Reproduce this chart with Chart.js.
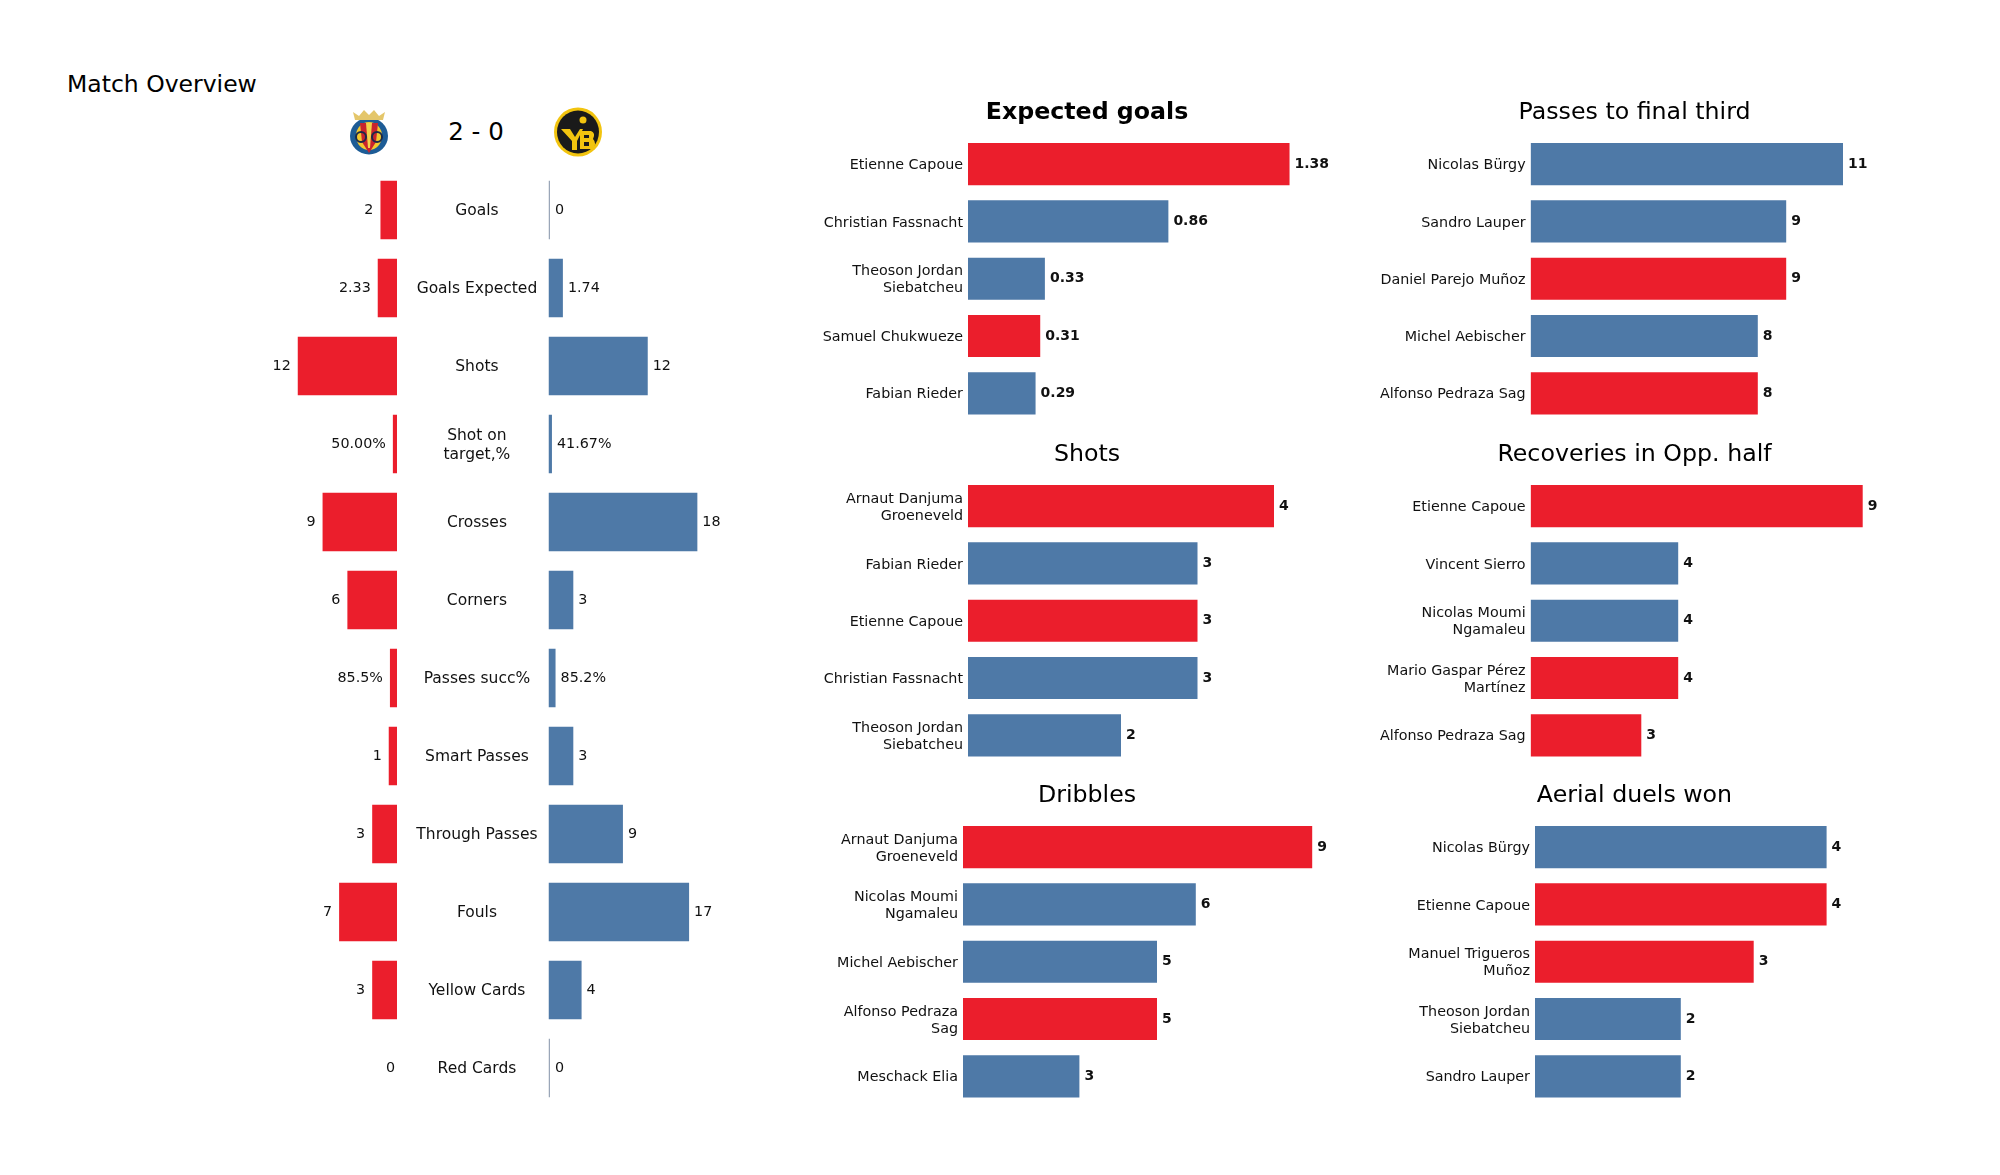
<!DOCTYPE html>
<html><head><meta charset="utf-8">
<style>
html,body{margin:0;padding:0;background:#fff;width:2000px;height:1175px;overflow:hidden;position:relative;font-family:"DejaVu Sans",sans-serif;color:#000}
canvas{position:absolute}
.t{position:absolute;white-space:nowrap;line-height:1}
svg{position:absolute}
</style>
<script src="https://cdn.jsdelivr.net/npm/chart.js@4"></script>
</head><body>
<div class="t" id="mo" style="left:67px;top:73px;font-size:23.5px">Match Overview</div>
<div class="t" id="sc" style="left:476px;top:120px;font-size:24.5px;transform:translateX(-50%)">2 - 0</div>
<svg style="left:346px;top:106px" width="46" height="50" viewBox="0 0 46 50">
 <ellipse cx="23" cy="30" rx="19" ry="18.5" fill="#1d5c96"/>
 <ellipse cx="23" cy="30" rx="13" ry="14" fill="#f3c92f"/>
 <path d="M14 17 L32 17 L30 36 L23 47 L16 36Z" fill="#c8242d"/>
 <path d="M20 17 L26 17 L24 42 L22 42Z" fill="#f3d24a"/>
 <circle cx="15" cy="31" r="5" fill="none" stroke="#1b2a4a" stroke-width="2"/>
 <circle cx="31" cy="31" r="5" fill="none" stroke="#1b2a4a" stroke-width="2"/>
 <path d="M9 14 L37 14 L39 6 L33 10 L28 4 L23 9 L18 4 L13 10 L7 6Z" fill="#e4c66a"/>
</svg>
<svg style="left:553px;top:107px" width="50" height="50" viewBox="0 0 50 50">
 <ellipse cx="25" cy="25" rx="24" ry="24.5" fill="#f2c40f"/>
 <ellipse cx="25" cy="25" rx="21" ry="21.5" fill="#1a1a1a"/>
 <path d="M8 22 L17 22 L22 30 L27 22 L30 22 L24 34 L24 43 L19 43 L19 34Z" fill="#f2c40f"/>
 <path d="M27 24 L38 24 Q43 26 40 32 Q44 36 40 42 L27 42Z" fill="#f2c40f"/>
 <path d="M31 28 h5 v3 h-5Z M31 35 h5 v4 h-5Z" fill="#1a1a1a"/>
 <circle cx="30" cy="13" r="3.5" fill="#f2c40f"/>
</svg>
<script>
const RED='#EB1E2C', BLUE='#4E79A7', ZERO='#9AA6B8';
const FONT='"DejaVu Sans"';

// Match overview
const statCategories=['Goals','Goals Expected','Shots',['Shot on','target,%'],'Crosses','Corners','Passes succ%','Smart Passes','Through Passes','Fouls','Yellow Cards','Red Cards'];
const homeValues=[2,2.33,12,0.5,9,6,0.855,1,3,7,3,0];
const awayValues=[0,1.74,12,0.4167,18,3,0.852,3,9,17,4,0];
const homeLabels=['2','2.33','12','50.00%','9','6','85.5%','1','3','7','3','0'];
const awayLabels=['0','1.74','12','41.67%','18','3','85.2%','3','9','17','4','0'];

// Expected goals
const xgPlayers=['Etienne Capoue','Christian Fassnacht',['Theoson Jordan','Siebatcheu'],'Samuel Chukwueze','Fabian Rieder'];
const xgValues=[1.38,0.86,0.33,0.31,0.29];
const xgTeams=['h','a','a','h','a'];
// Passes to final third
const ptfPlayers=['Nicolas Bürgy','Sandro Lauper','Daniel Parejo Muñoz','Michel Aebischer','Alfonso Pedraza Sag'];
const ptfValues=[11,9,9,8,8];
const ptfTeams=['a','a','h','a','h'];
// Shots
const shotPlayers=[['Arnaut Danjuma','Groeneveld'],'Fabian Rieder','Etienne Capoue','Christian Fassnacht',['Theoson Jordan','Siebatcheu']];
const shotValues=[4,3,3,3,2];
const shotTeams=['h','a','h','a','a'];
// Recoveries in Opp. half
const recPlayers=['Etienne Capoue','Vincent Sierro',['Nicolas Moumi','Ngamaleu'],['Mario Gaspar Pérez','Martínez'],'Alfonso Pedraza Sag'];
const recValues=[9,4,4,4,3];
const recTeams=['h','a','a','h','h'];
// Dribbles
const driPlayers=[['Arnaut Danjuma','Groeneveld'],['Nicolas Moumi','Ngamaleu'],'Michel Aebischer',['Alfonso Pedraza','Sag'],'Meschack Elia'];
const driValues=[9,6,5,5,3];
const driTeams=['h','a','a','h','a'];
// Aerial duels won
const aerPlayers=['Nicolas Bürgy','Etienne Capoue',['Manuel Trigueros','Muñoz'],['Theoson Jordan','Siebatcheu'],'Sandro Lauper'];
const aerValues=[4,4,3,2,2];
const aerTeams=['a','h','h','a','a'];

function box(el,l,t,w,h){
  const c=document.createElement('canvas');
  c.style.left=l+'px';c.style.top=t+'px';c.style.width=w+'px';c.style.height=h+'px';
  c.width=w;c.height=h;document.body.appendChild(c);return c;
}
const valueLabels={id:'valueLabels',afterDatasetsDraw(ch,a,o){
  const ctx=ch.ctx,meta=ch.getDatasetMeta(0);
  ctx.save();ctx.fillStyle='#111';ctx.font=o.font;ctx.textBaseline='middle';
  meta.data.forEach((b,i)=>{
    const txt=o.text[i];
    if(o.side==='left'){
      ctx.textAlign='right';
      ctx.fillText(txt,b.x-(ch.data.datasets[0].data[i]===0?2:o.gap),b.y);
    }else{
      ctx.textAlign='left';
      ctx.fillText(txt,b.x+o.gap,b.y);
    }
  });
  ctx.restore();
}};
// nudges the row names down a little so they sit on the same line as the reference's
const labelNudge={id:'labelNudge',afterLayout(ch){
  const s=ch.scales.y; if(!s||s._nudged) return; s._nudged=true;
  const orig=s.drawLabels;
  s.drawLabels=function(a){ch.ctx.save();ch.ctx.translate(0,1.4);orig.call(s,a);ch.ctx.restore();};
}};

function playerChart(title,bold,players,values,teams,left,width,areaLeft,areaTop,perUnit){
  const titlePx=23.7, tTop=2, tBottom=8;
  const tH=Math.round(titlePx*1.2);
  const headH=tTop+tH+tBottom;
  const areaH=287;
  const c=box(null,left,Math.round(areaTop-headH),width,areaH+headH);
  const axisW=areaLeft-left;
  new Chart(c,{type:'bar',plugins:[valueLabels,labelNudge],
    data:{labels:players,datasets:[{data:values,backgroundColor:teams.map(t=>t==='h'?RED:BLUE),barPercentage:0.735,categoryPercentage:1}]},
    options:{indexAxis:'y',responsive:false,animation:false,devicePixelRatio:1,layout:{padding:0},
      plugins:{legend:{display:false},tooltip:{enabled:false},
        title:{display:true,text:title,color:'#000',font:{family:FONT,size:titlePx,weight:bold?'bold':'normal',lineHeight:1.2},padding:{top:tTop,bottom:tBottom}},
        valueLabels:{text:values.map(String),side:'right',gap:5,font:'bold 14px '+FONT}},
      scales:{
        x:{display:false,min:0,max:(width-axisW)/perUnit},
        y:{afterFit(s){s.width=axisW;s.paddingTop=0;s.paddingBottom=0},grid:{display:false,drawTicks:false},border:{display:false},
           ticks:{color:'#111',padding:5,autoSkip:false,font:{family:FONT,size:14.3,lineHeight:1.2}}}
      }}});
}

playerChart('Expected goals',true,xgPlayers,xgValues,xgTeams,800,574,968,135,233);
playerChart('Passes to final third',false,ptfPlayers,ptfValues,ptfTeams,1370,529,1530.6,135,28.4);
playerChart('Shots',false,shotPlayers,shotValues,shotTeams,800,574,968,477,76.5);
playerChart('Recoveries in Opp. half',false,recPlayers,recValues,recTeams,1370,529,1530.6,477,36.9);
playerChart('Dribbles',false,driPlayers,driValues,driTeams,800,574,963,817.5,38.8);
playerChart('Aerial duels won',false,aerPlayers,aerValues,aerTeams,1370,529,1535,817.5,72.9);

// overview: home side (bars grow leftward), away side (axis carries the row names)
const PX=8.27, ROWT=171, ROWH=936;
const hc=box(null,150,ROWT,247,ROWH);
new Chart(hc,{type:'bar',plugins:[valueLabels],
  data:{labels:statCategories,datasets:[{data:homeValues,backgroundColor:RED,barPercentage:0.75,categoryPercentage:1}]},
  options:{indexAxis:'y',responsive:false,animation:false,devicePixelRatio:1,layout:{padding:0},
    plugins:{legend:{display:false},tooltip:{enabled:false},title:{display:false},
      valueLabels:{text:homeLabels,side:'left',gap:7,font:'14.3px '+FONT}},
    scales:{x:{display:false,reverse:true,min:0,max:247/PX},y:{display:false}}}});
const ac=box(null,398,ROWT,352,ROWH);
new Chart(ac,{type:'bar',plugins:[valueLabels,labelNudge],
  data:{labels:statCategories,datasets:[{data:awayValues,backgroundColor:awayValues.map(v=>v===0?ZERO:BLUE),minBarLength:1.5,barPercentage:0.75,categoryPercentage:1}]},
  options:{indexAxis:'y',responsive:false,animation:false,devicePixelRatio:1,layout:{padding:0},
    plugins:{legend:{display:false},tooltip:{enabled:false},title:{display:false},
      valueLabels:{text:awayLabels,side:'right',gap:5,font:'14.3px '+FONT}},
    scales:{x:{display:false,min:0,max:(352-150.5)/PX},
      y:{afterFit(s){s.width=150.5;s.paddingTop=0;s.paddingBottom=0},grid:{display:false,drawTicks:false},border:{display:false},
         ticks:{color:'#111',padding:11,crossAlign:'center',autoSkip:false,font:{family:FONT,size:15.5,lineHeight:1.25}}}}}});
</script>
</body></html>
